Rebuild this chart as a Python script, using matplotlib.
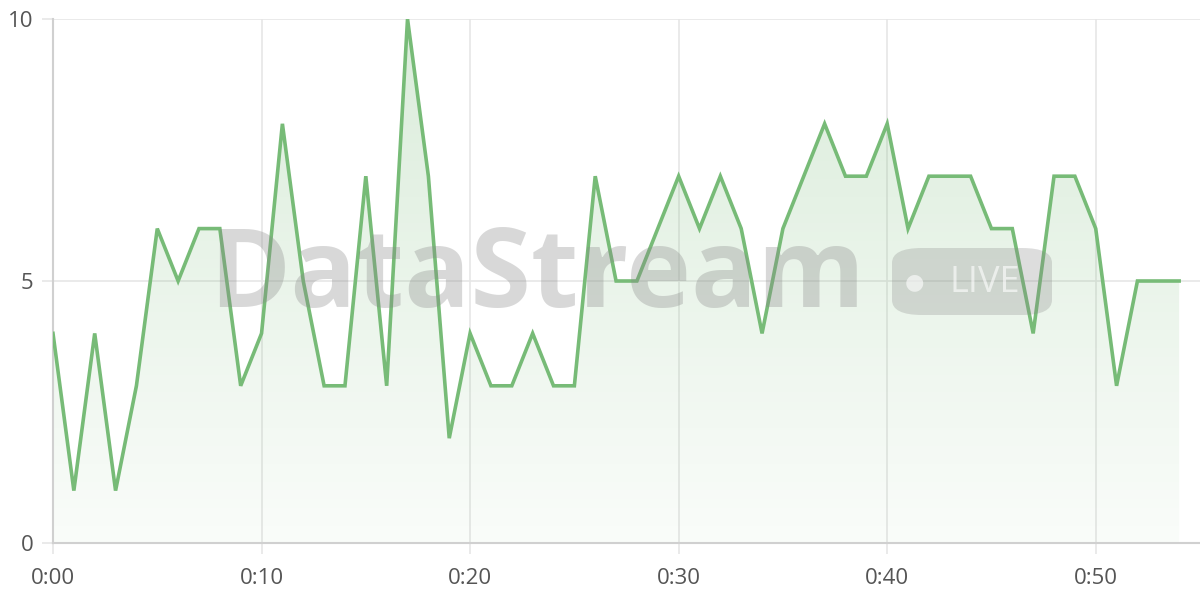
import numpy as np
import matplotlib.pyplot as plt
from matplotlib.patches import FancyBboxPatch

# minutes since start and the count per minute
minutes = list(range(55))
values = [4, 1, 4, 1, 3, 6, 5, 6, 6, 3,
          4, 8, 5, 3, 3, 7, 3, 10, 7, 2,
          4, 3, 3, 4, 3, 3, 7, 5, 5, 6,
          7, 6, 7, 6, 4, 6, 7, 8, 7, 7,
          8, 6, 7, 7, 7, 6, 6, 4, 7, 7,
          6, 3, 5, 5, 5]
x_ticks = [0, 10, 20, 30, 40, 50]
x_labels = ["0:00", "0:10", "0:20", "0:30", "0:40", "0:50"]
y_ticks = [0, 5, 10]

line_color = "#77bb77"
grid_color = "#e6e6e6"
text_color = "#555555"

plt.rcParams["font.family"] = ["Open Sans", "DejaVu Sans"]

fig = plt.figure(figsize=(12, 6), dpi=100)
ax = fig.add_axes([53 / 1200, 1 - 543 / 600, 1 - 53 / 1200, (543 - 19) / 600])
ax.set_xlim(0, 55)
ax.set_ylim(0, 10)

# gradient fill under the line
fill = ax.fill_between(minutes, values, 0, color="none", lw=0)
grad = np.linspace(0.04, 0.27, 256).reshape(-1, 1)
rgba = np.zeros((256, 1, 4))
rgba[..., 0] = 0.47
rgba[..., 1] = 0.73
rgba[..., 2] = 0.47
rgba[..., 3] = grad
img = ax.imshow(rgba, extent=[0, 54, 0, 10], origin="lower", aspect="auto", zorder=1)
img.set_clip_path(fill.get_paths()[0], transform=ax.transData)

ax.plot(minutes, values, color=line_color, lw=2.6, zorder=4, solid_joinstyle="miter")

# watermark
fig.text(0.448, 0.535, "DataStream", fontsize=79, fontweight="bold", color="#888888",
         alpha=0.32, ha="center", va="center", zorder=3)
badge = FancyBboxPatch((892 / 1200, 1 - 315 / 600), 160 / 1200, 67 / 600,
                       boxstyle="round,pad=0,rounding_size=0.025", transform=fig.transFigure,
                       facecolor="#888888", alpha=0.28, edgecolor="none", zorder=3)
fig.patches.append(badge)
fig.text(914 / 1200, 1 - 283 / 600, "\u25CF", fontsize=16, color="white", alpha=0.6,
         ha="center", va="center")
fig.text(985 / 1200, 1 - 283 / 600, "LIVE", fontsize=26, color="white", alpha=0.6,
         ha="center", va="center")

ax.set_xticks(x_ticks)
ax.set_xticklabels(x_labels)
ax.set_yticks(y_ticks)
ax.grid(True, color=grid_color, lw=1.2, zorder=0)
ax.set_axisbelow(True)
ax.tick_params(axis="both", colors=grid_color, length=8, width=1.2, labelsize=16,
               labelcolor=text_color)
ax.tick_params(axis="x", pad=10)
ax.tick_params(axis="y", pad=6)
for side in ["top", "right"]:
    ax.spines[side].set_visible(False)
for side in ["left", "bottom"]:
    ax.spines[side].set_color("#d0d0d0")
    ax.spines[side].set_linewidth(1.5)

fig.savefig("out.png", dpi=100)
